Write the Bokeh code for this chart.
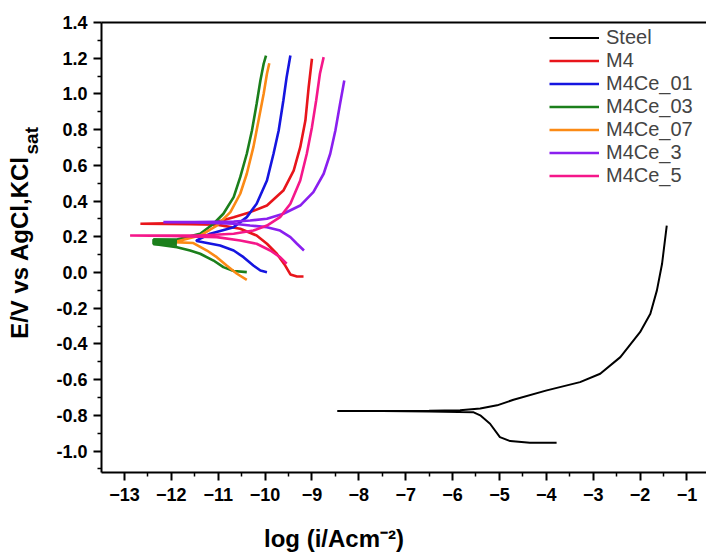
import numpy as np
from bokeh.plotting import figure
from bokeh.models import (Range1d, FixedTicker, PrintfTickFormatter, LinearAxis,
                          Title, Legend, LegendItem)
from bokeh.embed import file_html
from bokeh.resources import INLINE

# ---------------- data ----------------
series_names = ["Steel", "M4", "M4Ce_01", "M4Ce_03", "M4Ce_07", "M4Ce_3", "M4Ce_5"]
series_colors = ["#000000", "#e8151b", "#1515e0", "#1b7f1b", "#fb8a15", "#8a1fef", "#f5178a"]

# each curve: cathodic branch (from its end to the corrosion point), then anodic branch
steel_cath_x = [-3.78, -4.35, -4.77, -4.99, -5.20, -5.41, -5.56, -6.5, -7.5, -8.46]
steel_cath_y = [-0.953, -0.953, -0.944, -0.922, -0.847, -0.800, -0.782, -0.778, -0.776, -0.775]
steel_anod_x = [-8.46, -7.5, -6.5, -5.84, -5.41, -5.05, -4.70, -3.99, -3.28, -2.85, -2.42,
                -2.00, -1.78, -1.64, -1.53, -1.43]
steel_anod_y = [-0.775, -0.775, -0.774, -0.772, -0.762, -0.744, -0.713, -0.660, -0.614, -0.567,
                -0.474, -0.334, -0.231, -0.100, 0.049, 0.263]

m4_cath_x = [-9.18, -9.32, -9.46, -9.57, -9.75, -9.96, -10.18, -10.53, -11.03, -11.6, -12.1, -12.66]
m4_cath_y = [-0.022, -0.022, -0.011, 0.039, 0.105, 0.161, 0.207, 0.245, 0.268, 0.271, 0.272, 0.273]
m4_anod_x = [-12.66, -12.1, -11.4, -11.03, -10.67, -10.32, -9.96, -9.61, -9.39, -9.25, -9.14,
             -9.07, -9.00]
m4_anod_y = [0.273, 0.276, 0.279, 0.283, 0.310, 0.338, 0.375, 0.459, 0.571, 0.702, 0.851,
             1.038, 1.197]

m4ce01_cath_x = [-9.96, -10.10, -10.25, -10.46, -10.67, -10.96, -11.46]
m4ce01_cath_y = [0.002, 0.011, 0.039, 0.086, 0.123, 0.151, 0.176]
m4ce01_anod_x = [-11.46, -11.17, -10.67, -10.39, -10.18, -9.96, -9.82, -9.71, -9.61, -9.54, -9.46]
m4ce01_anod_y = [0.180, 0.217, 0.254, 0.310, 0.385, 0.515, 0.665, 0.795, 0.963, 1.094, 1.215]

m4ce03_cath_x = [-10.39, -10.67, -10.89, -11.10, -11.385, -11.60, -11.88, -12.38]
m4ce03_cath_y = [0.002, 0.008, 0.030, 0.067, 0.105, 0.123, 0.142, 0.160]
m4ce03_anod_x = [-12.38, -11.88, -11.385, -11.10, -10.89, -10.67, -10.53, -10.39, -10.28, -10.18,
                 -10.10, -10.03, -9.98]
m4ce03_anod_y = [0.185, 0.185, 0.217, 0.273, 0.329, 0.422, 0.534, 0.665, 0.795, 0.945,
                 1.075, 1.169, 1.215]
# noisy (thick) part of M4Ce_03 near its corrosion point
m4ce03_band_x = [-12.38, -11.88]
m4ce03_band_y = [0.172, 0.168]

m4ce07_cath_x = [-10.39, -10.60, -10.82, -11.03, -11.24, -11.53, -11.95]
m4ce07_cath_y = [-0.041, -0.007, 0.039, 0.086, 0.123, 0.165, 0.170]
m4ce07_anod_x = [-11.95, -11.385, -11.03, -10.74, -10.53, -10.39, -10.25, -10.14, -10.03, -9.96, -9.91]
m4ce07_anod_y = [0.170, 0.207, 0.263, 0.338, 0.441, 0.553, 0.702, 0.851, 1.001, 1.113, 1.172]

m4ce3_cath_x = [-9.17, -9.32, -9.46, -9.68, -9.96, -10.32, -10.67, -11.5, -12.17]
m4ce3_cath_y = [0.123, 0.161, 0.198, 0.235, 0.254, 0.263, 0.273, 0.280, 0.282]
m4ce3_anod_x = [-12.17, -11.5, -10.67, -10.32, -9.96, -9.61, -9.25, -8.97, -8.75, -8.61, -8.50,
                -8.40, -8.31]
m4ce3_anod_y = [0.282, 0.283, 0.285, 0.291, 0.301, 0.329, 0.375, 0.450, 0.553, 0.665, 0.795,
                0.945, 1.075]

m4ce5_cath_x = [-9.54, -9.68, -9.89, -10.18, -10.53, -11.03, -12.0, -12.88]
m4ce5_cath_y = [0.049, 0.086, 0.123, 0.161, 0.179, 0.198, 0.205, 0.207]
m4ce5_anod_x = [-12.88, -11.385, -10.67, -10.25, -9.96, -9.68, -9.46, -9.25, -9.11, -9.00, -8.91,
                -8.83, -8.75]
m4ce5_anod_y = [0.207, 0.207, 0.217, 0.235, 0.263, 0.310, 0.385, 0.515, 0.665, 0.814, 0.963,
                1.113, 1.206]

x_ticks = [-13, -12, -11, -10, -9, -8, -7, -6, -5, -4, -3, -2, -1]
x_minor = [-12.5, -11.5, -10.5, -9.5, -8.5, -7.5, -6.5, -5.5, -4.5, -3.5, -2.5, -1.5]
y_ticks = [-1.0, -0.8, -0.6, -0.4, -0.2, 0.0, 0.2, 0.4, 0.6, 0.8, 1.0, 1.2, 1.4]
y_minor = [-1.1, -0.9, -0.7, -0.5, -0.3, -0.1, 0.1, 0.3, 0.5, 0.7, 0.9, 1.1, 1.3]

curves = [
    (steel_cath_x + steel_anod_x, steel_cath_y + steel_anod_y),
    (m4_cath_x + m4_anod_x, m4_cath_y + m4_anod_y),
    (m4ce01_cath_x + m4ce01_anod_x, m4ce01_cath_y + m4ce01_anod_y),
    (m4ce03_cath_x + m4ce03_anod_x, m4ce03_cath_y + m4ce03_anod_y),
    (m4ce07_cath_x + m4ce07_anod_x, m4ce07_cath_y + m4ce07_anod_y),
    (m4ce3_cath_x + m4ce3_anod_x, m4ce3_cath_y + m4ce3_anod_y),
    (m4ce5_cath_x + m4ce5_anod_x, m4ce5_cath_y + m4ce5_anod_y),
]

# ---------------- layout ----------------
W, H = 706, 558
FR_L, FR_T, FR_B, FR_R = 101, 22, 86, 0
X0, X1 = -13.49, -0.582
Y0, Y1 = -1.12, 1.4

FONT = "Liberation Sans"

p = figure(width=W, height=H, x_range=Range1d(X0, X1), y_range=Range1d(Y0, Y1),
           output_backend="svg", toolbar_location=None,
           min_border_left=FR_L, min_border_right=FR_R,
           min_border_top=FR_T, min_border_bottom=FR_B)
p.grid.visible = False
p.outline_line_color = None
p.background_fill_color = "white"
p.border_fill_color = "white"

p.xaxis.ticker = FixedTicker(ticks=x_ticks, minor_ticks=x_minor)
p.yaxis.ticker = FixedTicker(ticks=y_ticks, minor_ticks=y_minor)
p.yaxis.formatter = PrintfTickFormatter(format="%.1f")

for ax in [p.xaxis[0], p.yaxis[0]]:
    ax.axis_line_width = 2
    ax.axis_line_color = "black"
    ax.major_tick_line_width = 2
    ax.minor_tick_line_width = 1.5
    ax.major_tick_in = 0
    ax.major_tick_out = 8
    ax.minor_tick_in = 0
    ax.minor_tick_out = 4
    ax.major_label_text_font = FONT
    ax.major_label_text_font_style = "bold"
    ax.major_label_text_font_size = "18px"
    ax.major_label_text_color = "black"
    ax.axis_label_text_font = FONT
    ax.axis_label_text_font_style = "bold"
    ax.axis_label_text_font_size = "24px"
    ax.axis_label_text_color = "black"
p.xaxis.major_label_standoff = 7
p.yaxis.major_label_standoff = 6

# axis titles (trailing no-break spaces move the centred x title to the left, as in the original)
p.xaxis.axis_label = "log (i/Acm\u207b\u00b2)" + "\u00a0" * 21
p.xaxis.axis_label_standoff = 21
p.yaxis.axis_label = "E/V vs AgCl,KCl"
p.yaxis.axis_label_standoff = 20

top_axis = LinearAxis(ticker=FixedTicker(ticks=[]), axis_line_width=2, axis_line_color="black",
                      major_tick_out=0, minor_tick_out=0, major_tick_in=0, minor_tick_in=0,
                      major_label_text_font_size="0px")
p.add_layout(top_axis, "above")

renderers = []
for (xs, ys), c in zip(curves, series_colors):
    lw = 2.0 if c == "#000000" else 2.6
    r = p.line(xs, ys, line_color=c, line_width=lw)
    renderers.append(r)
p.line(m4ce03_band_x, m4ce03_band_y, line_color=series_colors[3], line_width=7)

legend = Legend(items=[LegendItem(label=n, renderers=[r]) for n, r in zip(series_names, renderers)],
                location="top_right", border_line_color=None, background_fill_alpha=0,
                label_text_font=FONT, label_text_font_size="20px",
                glyph_width=50, glyph_height=23, label_height=23, label_width=96, spacing=0,
                padding=0, margin=4, label_standoff=7)
p.add_layout(legend)

# subscript of the y title
sat = Title(text="sat", text_font=FONT, text_font_style="bold", text_font_size="19px",
            text_color="black", align="left", offset=318, vertical_align="bottom", standoff=0)
try:
    sat.standoff = -76
except Exception:
    sat.standoff = 0
p.add_layout(sat, "left")

open("out.html", "w").write(file_html(p, INLINE))
